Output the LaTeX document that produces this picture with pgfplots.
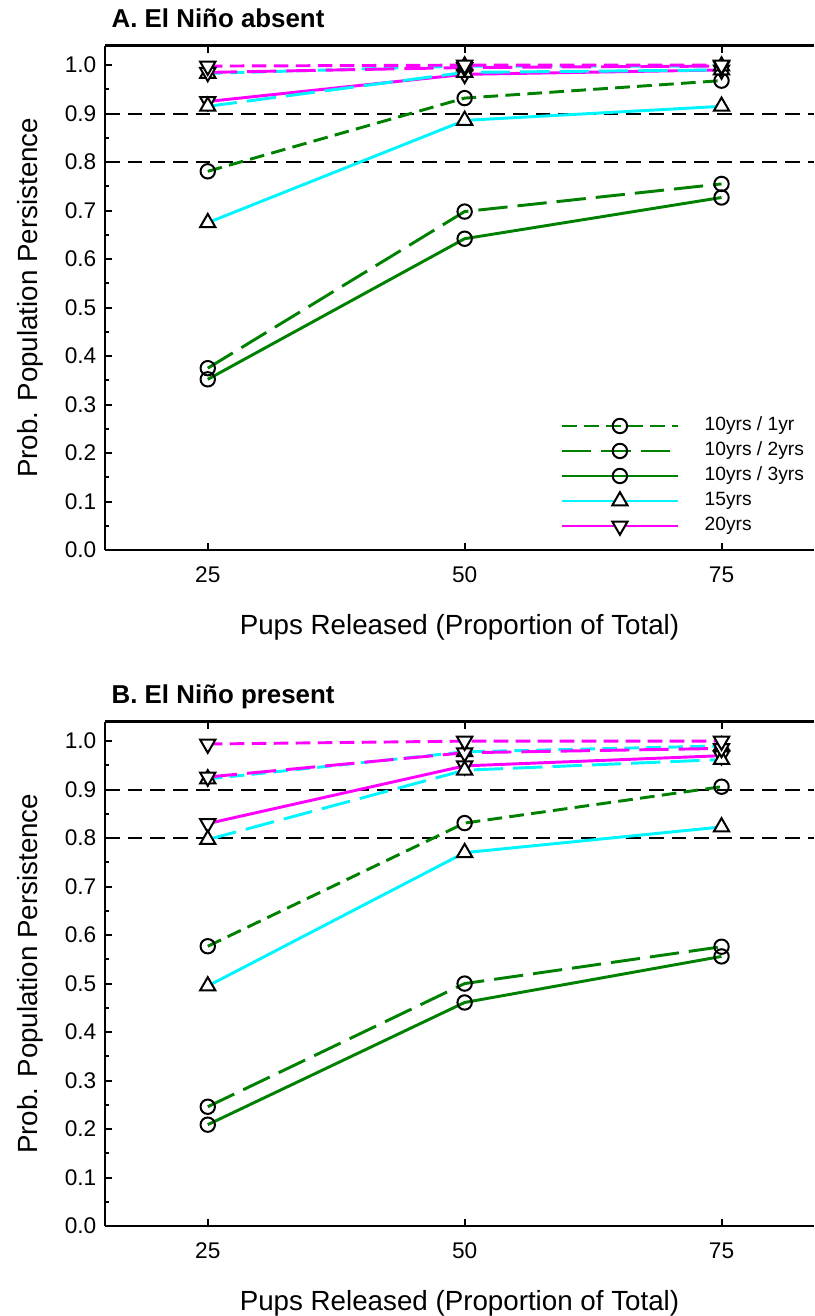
\documentclass[border=0pt]{standalone}
\usepackage{pgfplots}
\pgfplotsset{compat=1.18}
\usepackage{fontspec}
\setmainfont{Liberation Sans}
\definecolor{sgreen}{RGB}{0,128,0}
\definecolor{scyan}{RGB}{0,245,255}
\definecolor{smag}{RGB}{255,0,255}
\pgfplotsset{
  pan/.style={
    scale only axis, width=531.75pt, height=378.2pt,
    xmin=15, xmax=84, ymin=0, ymax=1.04,
    axis y line*=left,
    clip=false,
    set layers, mark layer=axis foreground,
    xtick={25,50,75},
    ytick={0,0.1,0.2,0.3,0.4,0.5,0.6,0.7,0.8,0.9,1.0},
    minor y tick num=1,
    major tick length=5.25pt, minor tick length=3pt,
    every tick/.style={black, line width=1.5pt},
    axis line style={line width=2pt},
    tick label style={font=\fontsize{17}{20}\selectfont},
    /pgf/number format/assume math mode=true,
    yticklabel style={/pgf/number format/.cd, fixed, fixed zerofill, precision=1, /tikz/.cd, xshift=-3pt},
    xticklabel style={yshift=-9.3pt},
    xlabel={Pups Released (Proportion of Total)},
    ylabel={Prob. Population Persistence},
    label style={font=\fontsize{20.8}{24}\selectfont},
    xlabel style={at={(axis description cs:0.5,-0.168)}, anchor=base},
    ylabel style={at={(axis description cs:-0.0959,0.5)}, anchor=base},
    every axis title shift=0pt,
    title style={at={(axis description cs:0,1)}, anchor=base west, yshift=14pt, xshift=1.5pt, font=\bfseries\fontsize{19.4}{22}\selectfont},
  },
  mo/.style={mark=o, mark options={solid, draw=black, fill=white, line width=1.5pt}, mark size=5.4pt},
  mu/.style={mark=triangle*, mark options={solid, draw=black, fill=white, line width=1.5pt}, mark size=6.6pt},
  md/.style={mark=triangle*, mark options={solid, rotate=180, draw=black, fill=white, line width=1.5pt}, mark size=6.6pt},
  d1/.style={dash pattern=on 11pt off 5.5pt},
  d2/.style={dash pattern=on 22pt off 7.5pt},
  g1/.style={sgreen, line width=2.2pt, d1, mo},
  g2/.style={sgreen, line width=2.2pt, d2, mo},
  g3/.style={sgreen, line width=2.2pt, mo},
  c1/.style={scyan, line width=2.2pt, d1, mu},
  c2/.style={scyan, line width=2.2pt, d2, mu},
  c3/.style={scyan, line width=2.2pt, mu},
  m1/.style={smag, line width=2.2pt, d1, md},
  m2/.style={smag, line width=2.2pt, d2, md},
  m3/.style={smag, line width=2.2pt, md},
  refl/.style={black, line width=1.5pt, dash pattern=on 11pt off 6pt, no marks, forget plot},
}
\begin{document}
\begin{tikzpicture}
% ---------------- Panel A
\begin{axis}[pan, at={(78.75pt,-412.5pt)}, anchor=south west,
  title={A. El Niño absent},
  legend style={at={(axis description cs:0.642,0.265)}, anchor=north west, draw=none, fill=none,
    inner sep=0pt, font=\fontsize{14.4}{16}\selectfont, row sep=4.75pt,
    nodes={text height=10.5pt, text depth=3.5pt, inner ysep=0pt},
    /tikz/column 1/.style={column sep=17pt}},
  legend cell align=left,
  legend image code/.code={\draw[mark repeat=2, mark phase=2, #1] plot coordinates {(0pt,0pt) (43.5pt,0pt) (87pt,0pt)};},
]
\addplot[refl] coordinates {(15,0.9) (84,0.9)};
\addplot[refl] coordinates {(15,0.8) (84,0.8)};
\addplot[g1] coordinates {(25,0.781) (50,0.932) (75,0.968)};
\addlegendentry{10yrs / 1yr}
\addplot[g2] coordinates {(25,0.375) (50,0.698) (75,0.755)};
\addlegendentry{10yrs / 2yrs}
\addplot[g3] coordinates {(25,0.352) (50,0.642) (75,0.727)};
\addlegendentry{10yrs / 3yrs}
\addplot[c3] coordinates {(25,0.675) (50,0.886) (75,0.915)};
\addlegendentry{15yrs}
\addplot[m3] coordinates {(25,0.925) (50,0.981) (75,0.990)};
\addlegendentry{20yrs}
\addplot[c2, forget plot] coordinates {(25,0.915) (50,0.985) (75,0.990)};
\addplot[c1, forget plot] coordinates {(25,0.983) (50,0.998) (75,0.998)};
\addplot[m2, forget plot] coordinates {(25,0.985) (50,0.995) (75,0.998)};
\addplot[m1, forget plot] coordinates {(25,0.998) (50,1.000) (75,1.000)};
\end{axis}
% ---------------- Panel B
\begin{axis}[pan, at={(78.75pt,-919.5pt)}, anchor=south west,
  title={B. El Niño present}]
\addplot[refl] coordinates {(15,0.9) (84,0.9)};
\addplot[refl] coordinates {(15,0.8) (84,0.8)};
\addplot[g1] coordinates {(25,0.577) (50,0.831) (75,0.906)};
\addplot[g2] coordinates {(25,0.246) (50,0.500) (75,0.576)};
\addplot[g3] coordinates {(25,0.209) (50,0.461) (75,0.556)};
\addplot[c3] coordinates {(25,0.495) (50,0.770) (75,0.823)};
\addplot[m3] coordinates {(25,0.830) (50,0.949) (75,0.970)};
\addplot[c2] coordinates {(25,0.797) (50,0.940) (75,0.962)};
\addplot[c1] coordinates {(25,0.922) (50,0.978) (75,0.990)};
\addplot[m2] coordinates {(25,0.926) (50,0.976) (75,0.985)};
\addplot[m1] coordinates {(25,0.994) (50,1.000) (75,1.000)};
\end{axis}
\pgfresetboundingbox
\useasboundingbox (0,0) rectangle (610.5pt,-987pt);
\end{tikzpicture}
\end{document}
